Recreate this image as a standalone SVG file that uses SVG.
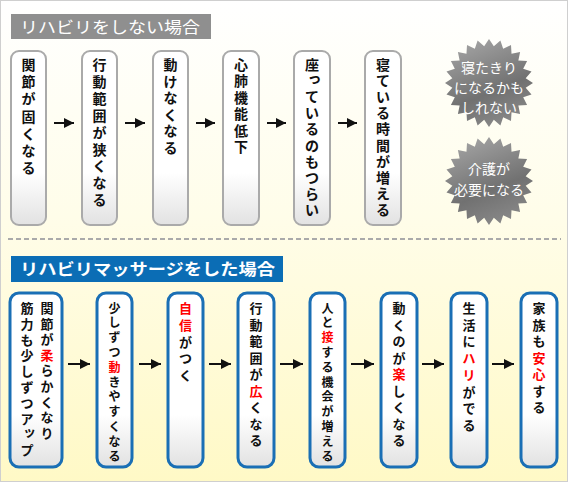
<svg xmlns="http://www.w3.org/2000/svg" width="568" height="482" viewBox="0 0 568 482">
<style>
.t{font-family:"Noto Sans CJK JP","Noto Sans CJK SC",sans-serif;font-size:14px;font-weight:bold;fill:#111;text-anchor:middle}
.b{font-family:"Noto Sans CJK JP","Noto Sans CJK SC",sans-serif;font-size:13px;font-weight:bold;fill:#111;text-anchor:middle}
.s{font-size:12px}
.r{fill:#f00}
.w{font-family:"Noto Sans CJK JP","Noto Sans CJK SC",sans-serif;font-size:14px;fill:#fff;text-anchor:middle}
.h{font-family:"Noto Sans CJK JP","Noto Sans CJK SC",sans-serif;font-size:16px;fill:#fff}
.gbox{fill:url(#boxg);stroke:#aaa;stroke-width:2}
.bbox{fill:url(#boxg);stroke:#1a6fb5;stroke-width:3}
.arr{stroke:#111;stroke-width:2;fill:none;marker-end:url(#ah)}
</style>
<defs>
<linearGradient id="bg" x1="0" y1="0" x2="0" y2="1">
<stop offset="0" stop-color="#ffffff"/>
<stop offset="0.45" stop-color="#fffde9"/>
<stop offset="1" stop-color="#fff9c6"/>
</linearGradient>
<linearGradient id="boxg" x1="0" y1="0" x2="0" y2="1">
<stop offset="0" stop-color="#ffffff"/>
<stop offset="0.7" stop-color="#ffffff"/>
<stop offset="1" stop-color="#e2e2e2"/>
</linearGradient>
<linearGradient id="burstg" x1="0.3" y1="0" x2="0.7" y2="1">
<stop offset="0" stop-color="#a2a2a2"/>
<stop offset="0.6" stop-color="#717171"/>
<stop offset="1" stop-color="#8a8a8a"/>
</linearGradient>
<marker id="ah" markerUnits="userSpaceOnUse" markerWidth="10" markerHeight="10" viewBox="0 0 10 10" refX="10" refY="5" orient="auto">
<path d="M0,0 L10,5 L0,10 Z" fill="#111"/>
</marker>
<polygon id="burst" fill="url(#burstg)" points="44,0 36.68,4.83 42.5,11.39 34.18,14.16 38.1,22 29.35,22.52 31.11,31.11 22.52,29.35 22,38.1 14.16,34.18 11.39,42.5 4.83,36.68 0,44 -4.83,36.68 -11.39,42.5 -14.16,34.18 -22,38.1 -22.52,29.35 -31.11,31.11 -29.35,22.52 -38.1,22 -34.18,14.16 -42.5,11.39 -36.68,4.83 -44,0 -36.68,-4.83 -42.5,-11.39 -34.18,-14.16 -38.1,-22 -29.35,-22.52 -31.11,-31.11 -22.52,-29.35 -22,-38.1 -14.16,-34.18 -11.39,-42.5 -4.83,-36.68 0,-44 4.83,-36.68 11.39,-42.5 14.16,-34.18 22,-38.1 22.52,-29.35 31.11,-31.11 29.35,-22.52 38.1,-22 34.18,-14.16 42.5,-11.39 36.68,-4.83"/>
</defs>
<rect x="0.5" y="0.5" width="567" height="481" fill="url(#bg)" stroke="#cfcfcf"/>
<line x1="8" y1="239" x2="561" y2="239" stroke="#aaa" stroke-width="2" stroke-dasharray="5 3"/>

<g id="header-top">
<rect x="11" y="14" width="200" height="25" fill="#8f8f8f"/>
<text class="h" x="20" y="32.5" textLength="180" lengthAdjust="spacingAndGlyphs">リハビリをしない場合</text>
</g>
<g id="header-bottom">
<rect x="11" y="256" width="272" height="26" fill="#0b6db5"/>
<text class="h" x="20" y="275" font-weight="bold" textLength="255" lengthAdjust="spacingAndGlyphs">リハビリマッサージをした場合</text>
</g>

<g id="n1">
<rect class="gbox" x="11" y="51" width="35" height="174" rx="8"/>
<text class="t" x="28.5 28.5 28.5 28.5 28.5 28.5 28.5" y="70 87.2 104.4 121.6 138.8 156 173.2">関節が固くなる</text>
</g>
<g id="n2">
<rect class="gbox" x="82" y="51" width="35" height="174" rx="8"/>
<text class="t" x="99.5 99.5 99.5 99.5 99.5 99.5 99.5 99.5 99.5" y="70 86.9 103.8 120.7 137.6 154.5 171.4 188.3 205.2">行動範囲が狭くなる</text>
</g>
<g id="n3">
<rect class="gbox" x="153" y="51" width="35" height="174" rx="8"/>
<text class="t" x="170.5 170.5 170.5 170.5 170.5 170.5" y="70 86.6 103.2 119.8 136.4 153">動けなくなる</text>
</g>
<g id="n4">
<rect class="gbox" x="223" y="51" width="36" height="174" rx="8"/>
<text class="t" x="241 241 241 241 241 241" y="70 86.4 102.8 119.2 135.6 152">心肺機能低下</text>
</g>
<g id="n5">
<rect class="gbox" x="294" y="51" width="36" height="174" rx="8"/>
<text class="t" x="312 314.5 312 312 312 312 312 312 312 312" y="70 82.6 102.2 118.3 134.4 150.5 166.6 182.7 198.8 214.9">座っているのもつらい</text>
</g>
<g id="n6">
<rect class="gbox" x="365" y="51" width="36" height="174" rx="8"/>
<text class="t" x="383 383 383 383 383 383 383 383 383 383" y="70 86.1 102.2 118.3 134.4 150.5 166.6 182.7 198.8 214.9">寝ている時間が増える</text>
</g>

<g id="n7">
<use href="#burst" transform="translate(489,83)"/>
<text class="w" x="489" y="73">寝たきり</text>
<text class="w" x="489" y="93">になるかも</text>
<text class="w" x="489" y="113">しれない</text>
</g>
<g id="n8">
<use href="#burst" transform="translate(489,181)"/>
<text class="w" x="489" y="174">介護が</text>
<text class="w" x="489" y="195">必要になる</text>
</g>

<g id="m1">
<rect class="bbox" x="10" y="293" width="52" height="174" rx="9"/>
<text class="b" x="47 47 47 47 47 47 47 47 47" y="313 328.6 344.2 359.8 375.4 391 406.6 422.2 437.8">関節が<tspan class="r">柔</tspan>らかくなり</text>
<text class="b" x="27 27 27 27 27 27 27 27 29.5 27" y="313 328.8 344.6 360.4 376.2 392 407.8 423.6 436.4 455.2">筋力も少しずつアップ</text>
</g>
<g id="m2">
<rect class="bbox" x="97" y="293" width="35" height="174" rx="9"/>
<text class="b s" x="114.5 114.5 114.5 114.5 114.5 114.5 114.5 114.5 114.5 114.5 114.5" y="312.5 327.3 342.1 356.9 371.7 386.5 401.3 416.1 430.9 445.7 460.5">少しずつ<tspan class="r">動</tspan>きやすくなる</text>
</g>
<g id="m3">
<rect class="bbox" x="168" y="293" width="35" height="174" rx="9"/>
<text class="b" x="185.5 185.5 185.5 185.5 185.5" y="313 329.8 346.6 363.4 380.2"><tspan class="r">自信</tspan>がつく</text>
</g>
<g id="m4">
<rect class="bbox" x="238" y="293" width="36" height="174" rx="9"/>
<text class="b" x="256 256 256 256 256 256 256 256 256" y="313 329.5 346 362.5 379 395.5 412 428.5 445">行動範囲が<tspan class="r">広</tspan>くなる</text>
</g>
<g id="m5">
<rect class="bbox" x="310" y="293" width="35" height="174" rx="9"/>
<text class="b s" x="327.5 327.5 327.5 327.5 327.5 327.5 327.5 327.5 327.5 327.5 327.5" y="312.5 327.3 342.1 356.9 371.7 386.5 401.3 416.1 430.9 445.7 460.5">人と<tspan class="r">接</tspan>する機会が増える</text>
</g>
<g id="m6">
<rect class="bbox" x="381" y="293" width="36" height="174" rx="9"/>
<text class="b" x="399 399 399 399 399 399 399 399 399" y="313 329.5 346 362.5 379 395.5 412 428.5 445">動くのが<tspan class="r">楽</tspan>しくなる</text>
</g>
<g id="m7">
<rect class="bbox" x="451" y="293" width="36" height="174" rx="9"/>
<text class="b" x="469 469 469 469 469 469 469 469" y="313 329.7 346.4 363.1 379.8 396.5 413.2 429.9">生活に<tspan class="r">ハリ</tspan>がでる</text>
</g>
<g id="m8">
<rect class="bbox" x="521" y="293" width="36" height="174" rx="9"/>
<text class="b" x="539 539 539 539 539 539 539" y="313 329.5 346 362.5 379 395.5 412">家族も<tspan class="r">安心</tspan>する</text>
</g>

<g id="connectors">
<line class="arr" x1="54" y1="123" x2="74" y2="123"/>
<line class="arr" x1="125" y1="123" x2="145" y2="123"/>
<line class="arr" x1="196" y1="123" x2="215" y2="123"/>
<line class="arr" x1="267" y1="123" x2="286" y2="123"/>
<line class="arr" x1="338" y1="123" x2="357" y2="123"/>
<line class="arr" x1="68" y1="364" x2="90" y2="364"/>
<line class="arr" x1="139" y1="364" x2="161" y2="364"/>
<line class="arr" x1="209" y1="364" x2="231" y2="364"/>
<line class="arr" x1="280" y1="364" x2="303" y2="364"/>
<line class="arr" x1="351" y1="364" x2="374" y2="364"/>
<line class="arr" x1="422" y1="364" x2="444" y2="364"/>
<line class="arr" x1="492" y1="364" x2="514" y2="364"/>
</g>
</svg>
